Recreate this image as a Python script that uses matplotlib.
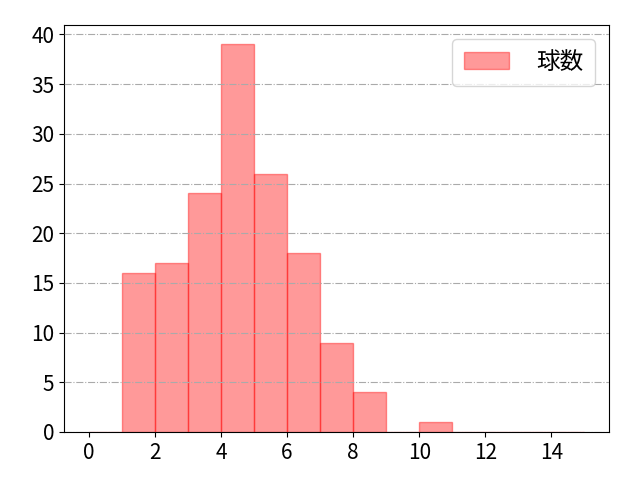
import matplotlib
matplotlib.use('Agg')
import matplotlib.pyplot as plt
import numpy as np

plt.rcParams['font.family'] = ['Noto Sans CJK JP', 'DejaVu Sans']
plt.rcParams['font.size'] = 15

# histogram of pitch counts, one bin per unit from 0 to 15
bin_edges = list(range(0, 16))
counts = [0, 16, 17, 24, 39, 26, 18, 9, 4, 0, 1, 0, 0, 0, 0]
label = '球数'

fig, ax = plt.subplots(figsize=(6.4, 4.8), dpi=100)
centers = np.array(bin_edges[:-1]) + 0.5
ax.hist(centers, bins=bin_edges, weights=counts, color='red', alpha=0.4,
        edgecolor='red', linewidth=1, label=label)
ax.grid(axis='y', linestyle='-.', color='#aaaaaa')
ax.set_axisbelow(False)
ax.set_xticks(range(0, 16, 2))
ax.legend(loc='upper right', fontsize=17, handlelength=1.9,
          handletextpad=1.15, borderpad=0.5, borderaxespad=0.6)

fig.subplots_adjust(left=0.1, right=0.952, top=0.948, bottom=0.1)
fig.savefig('out.png')
